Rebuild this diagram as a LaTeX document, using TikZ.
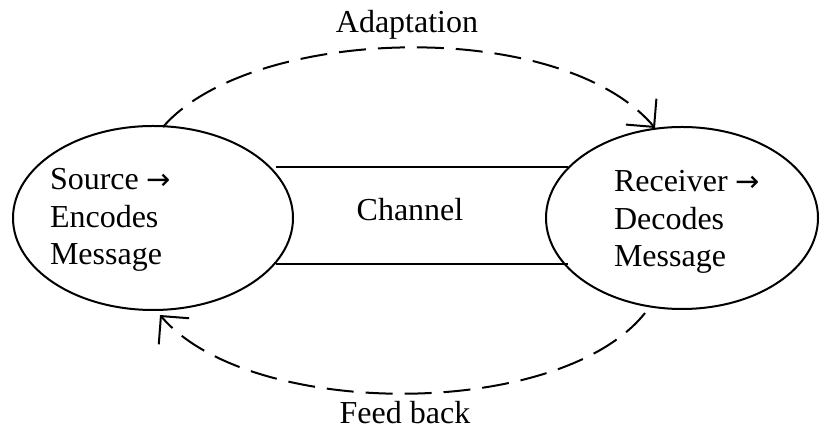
\documentclass[tikz,border=0pt]{standalone}
\usepackage{fontspec}
\setmainfont{Liberation Serif}
\newfontfamily\arrowfont{DejaVu Sans}
\usetikzlibrary{arrows.meta,shapes.geometric}
\newcommand{\rarr}{{\arrowfont\fontsize{29}{37.5}\selectfont →}}
\begin{document}
\begin{tikzpicture}[x=1pt,y=1pt,
  lbl/.style={font=\fontsize{32}{37.5}\selectfont, inner sep=0pt, outer sep=0pt},
  oval/.style={draw, ellipse, line width=2pt, inner sep=0pt},
  dashlink/.style={line width=2pt, dash pattern=on 27pt off 12pt,
     -{Straight Barb[length=20pt,width=40pt,line width=2pt]}},
  chanline/.style={line width=2pt}]
\useasboundingbox (0,0) rectangle (821,430);
\node[oval, minimum width=280pt, minimum height=184pt] (src) at (153,212) {};
\node[oval, minimum width=272pt, minimum height=182pt] (dst) at (682,212) {};
\node[lbl, anchor=base west, align=left] (srctext) at (50,165) {Source \rarr\\Encodes\\Message};
\node[lbl, anchor=base west, align=left] (dsttext) at (614,163) {Receiver \rarr\\Decodes\\Message};
\node[inner sep=0pt, minimum width=292pt, minimum height=97pt] (chan) at (422,214.5) {};
\draw[chanline] (chan.north west) -- (chan.north east);
\draw[chanline] (chan.south west) -- (chan.south east);
\node[lbl, anchor=base] (chanlabel) at (410,209) {Channel};
\coordinate (adstart) at (163,303);
\coordinate (adend) at (655,302);
\coordinate (fbstart) at (645,117);
\coordinate (fbend) at (160,115);
\draw[dashlink] (adstart) .. controls (250,404) and (560,414) .. (adend);
\draw[dashlink] (fbstart) .. controls (560,10) and (250,10) .. (fbend);
\node[lbl, anchor=base] (adlabel) at (407,397) {Adaptation};
\node[lbl, anchor=base] (fblabel) at (405,6) {Feed back};
\end{tikzpicture}
\end{document}
